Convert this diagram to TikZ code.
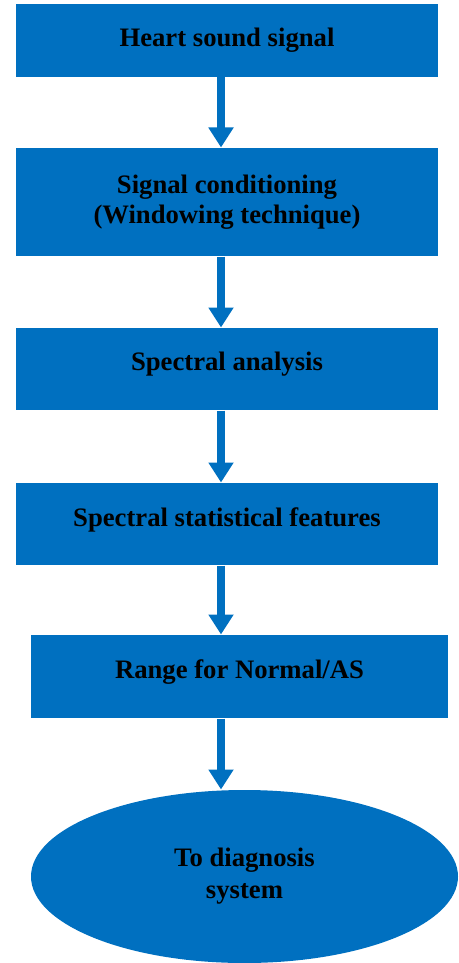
\documentclass[tikz,border=0pt]{standalone}
\usepackage{fontspec}
\setmainfont{Liberation Serif}
\usetikzlibrary{arrows.meta,shapes.geometric}
\definecolor{boxblue}{RGB}{0,112,192}

\tikzset{every picture/.style={line width=0.75pt}}

\begin{document}
\begin{tikzpicture}[x=0.75pt,y=0.75pt,yscale=-1,
  stage/.style={fill=boxblue, inner sep=0pt, align=center, minimum width=316.5pt,
    font=\fontsize{20}{22.5}\selectfont\bfseries},
  lifted/.style={text depth=11pt},
  goal/.style={ellipse, fill=boxblue, inner sep=0pt, align=center,
    minimum width=320.25pt, minimum height=129.75pt,
    font=\fontsize{20}{24}\selectfont\bfseries},
  flow/.style={boxblue, line width=6pt, -{Triangle[width=18pt,length=15pt]}}]
\useasboundingbox (0,0) rectangle (458,963);

%Shape: Rectangle [id:hss]
\node [stage, minimum height=54.75pt] (hss) at (227,40.5) {Heart sound signal};
%Shape: Rectangle [id:cond]
\node [stage, minimum height=81pt] (cond) at (227,202) {Signal conditioning\\(Windowing technique)};
%Shape: Rectangle [id:spec]
\node [stage, lifted, minimum height=61.5pt] (spec) at (227,369) {Spectral analysis};
%Shape: Rectangle [id:feat]
\node [stage, lifted, minimum height=61.5pt] (feat) at (227,524) {Spectral statistical features};
%Shape: Rectangle [id:range]
\node [stage, lifted, minimum width=312.75pt, minimum height=62.25pt] (range) at (239.5,676.5) {Range for Normal/AS};
%Shape: Ellipse [id:diag]
\node [goal] (diag) at (244.5,876.5) {To diagnosis\\system};

%Straight Lines [id:axis]
\coordinate (axis) at (221,0);
\draw [flow] (hss.south -| axis) -- (cond.north -| axis);
\draw [flow] (cond.south -| axis) -- (spec.north -| axis);
\draw [flow] (spec.south -| axis) -- (feat.north -| axis);
\draw [flow] (feat.south -| axis) -- (range.north -| axis);
\draw [flow] (range.south -| axis) -- (diag.north -| axis);

\end{tikzpicture}
\end{document}
